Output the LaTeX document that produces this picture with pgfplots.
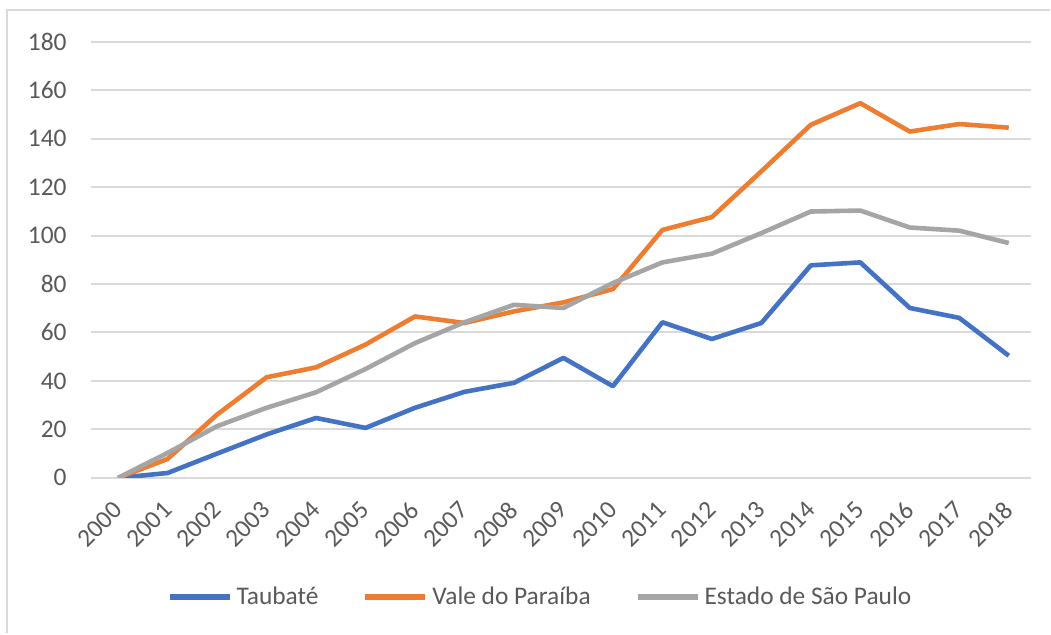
\documentclass[border=0pt]{standalone}
\usepackage{fontspec}
\setmainfont{Carlito}
\usepackage{pgfplots}
\pgfplotsset{compat=1.18}
\definecolor{cBlue}{RGB}{68,114,196}
\definecolor{cOrange}{RGB}{237,125,49}
\definecolor{cGray}{RGB}{165,165,165}
\definecolor{cGrid}{RGB}{217,217,217}
\definecolor{cText}{RGB}{89,89,89}
\begin{document}
\begin{tikzpicture}
\path (0,0) rectangle (525.5pt,317pt);
\draw[cGrid, line width=1pt] (3.75pt,0) -- (3.75pt,312pt) -- (525.5pt,312pt);
\begin{axis}[
  at={(45.5pt,77.85pt)}, anchor=south west,
  scale only axis, width=470.5pt, height=218.3pt,
  xmin=-0.55, xmax=18.45, ymin=0, ymax=180,
  xtick={0,...,18},
  xticklabels={2000,2001,2002,2003,2004,2005,2006,2007,2008,2009,2010,2011,2012,2013,2014,2015,2016,2017,2018},
  ytick={0,20,...,180},
  major tick length=0pt,
  axis line style={draw=none},
  ymajorgrids, grid style={cGrid, line width=1pt},
  /pgf/number format/assume math mode=true,
  tick label style={font=\fontsize{12.7pt}{15pt}\selectfont, text=cText},
  yticklabel style={inner sep=0pt, xshift=-12pt},
  xticklabel style={rotate=45, anchor=east, inner sep=0pt},
  xticklabel shift=14pt,
  legend columns=3,
  legend style={at={(0.4787,-0.274)}, anchor=center, draw=none, fill=none,
    font=\fontsize{12.7pt}{15pt}\selectfont, text=cText,
    /tikz/every even column/.append style={column sep=20pt}},
  legend image code/.code={\draw[#1, line width=3pt] (0pt,0pt) -- (30pt,0pt);},
  every axis plot/.append style={line width=2.3pt, line join=round, mark=none},
]
\addplot[cBlue] coordinates {(0,0) (1,2) (2,10) (3,17.9) (4,24.7) (5,20.6) (6,28.9) (7,35.5) (8,39.2) (9,49.5) (10,37.8) (11,64.2) (12,57.3) (13,63.9) (14,87.7) (15,88.9) (16,70.1) (17,66.0) (18,50.4)};
\addlegendentry{Taubaté}
\addplot[cOrange] coordinates {(0,0) (1,7.8) (2,26.1) (3,41.5) (4,45.6) (5,55) (6,66.6) (7,63.9) (8,68.7) (9,72.4) (10,77.9) (11,102.3) (12,107.6) (13,126.5) (14,145.7) (15,154.6) (16,142.9) (17,146) (18,144.5)};
\addlegendentry{Vale do Paraíba}
\addplot[cGray] coordinates {(0,0) (1,10.3) (2,21.3) (3,28.9) (4,35.3) (5,44.9) (6,55.6) (7,64.2) (8,71.4) (9,70.1) (10,80.4) (11,88.9) (12,92.5) (13,101) (14,109.9) (15,110.3) (16,103.3) (17,102) (18,96.9)};
\addlegendentry{Estado de São Paulo}
\end{axis}
\end{tikzpicture}
\end{document}
